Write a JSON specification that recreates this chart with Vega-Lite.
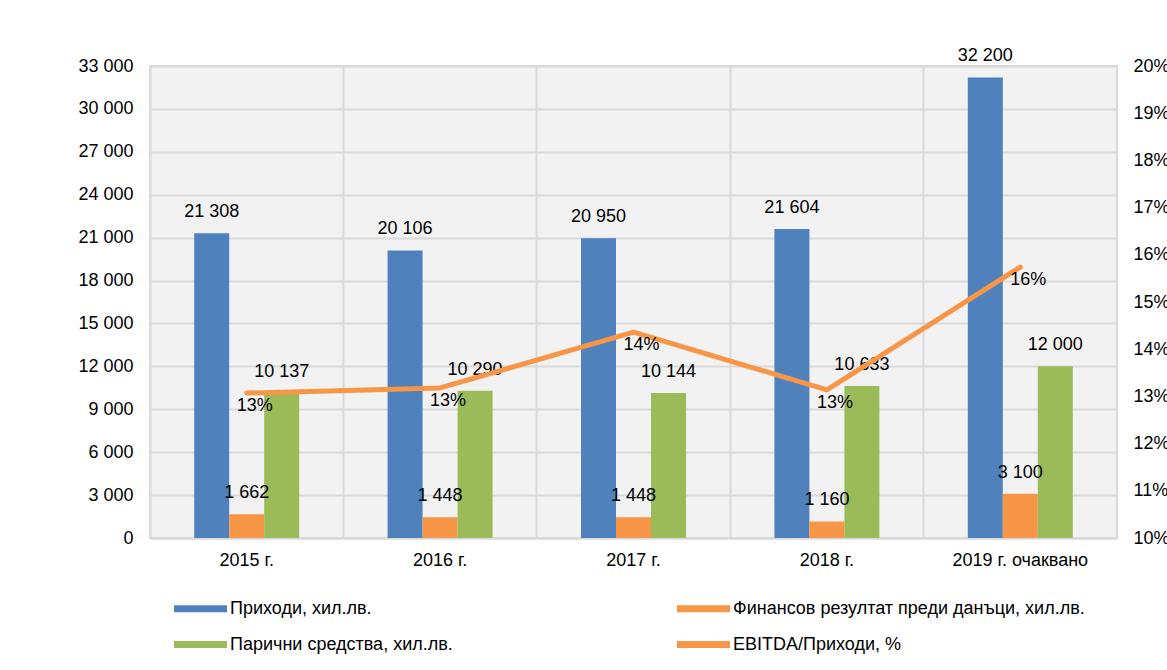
{
  "$schema": "https://vega.github.io/schema/vega-lite/v6.json",
  "width": 967,
  "height": 472,
  "autosize": {"type": "none"},
  "padding": {"left": 150, "top": 66, "right": 50, "bottom": 132},
  "background": "white",
  "datasets": {
    "bars": [
      {"year": "2015 г.", "series": "Приходи, хил.лв.", "value": 21308},
      {"year": "2015 г.", "series": "Финансов резултат преди данъци, хил.лв.", "value": 1662},
      {"year": "2015 г.", "series": "Парични средства, хил.лв.", "value": 10137},
      {"year": "2016 г.", "series": "Приходи, хил.лв.", "value": 20106},
      {"year": "2016 г.", "series": "Финансов резултат преди данъци, хил.лв.", "value": 1448},
      {"year": "2016 г.", "series": "Парични средства, хил.лв.", "value": 10290},
      {"year": "2017 г.", "series": "Приходи, хил.лв.", "value": 20950},
      {"year": "2017 г.", "series": "Финансов резултат преди данъци, хил.лв.", "value": 1448},
      {"year": "2017 г.", "series": "Парични средства, хил.лв.", "value": 10144},
      {"year": "2018 г.", "series": "Приходи, хил.лв.", "value": 21604},
      {"year": "2018 г.", "series": "Финансов резултат преди данъци, хил.лв.", "value": 1160},
      {"year": "2018 г.", "series": "Парични средства, хил.лв.", "value": 10633},
      {"year": "2019 г. очаквано", "series": "Приходи, хил.лв.", "value": 32200},
      {"year": "2019 г. очаквано", "series": "Финансов резултат преди данъци, хил.лв.", "value": 3100},
      {"year": "2019 г. очаквано", "series": "Парични средства, хил.лв.", "value": 12000}
    ],
    "ratio": [
      {"year": "2015 г.", "ratio": 0.1307},
      {"year": "2016 г.", "ratio": 0.1318},
      {"year": "2017 г.", "ratio": 0.1436},
      {"year": "2018 г.", "ratio": 0.1314},
      {"year": "2019 г. очаквано", "ratio": 0.1574}
    ]
  },
  "layer": [
    {
      "data": {"name": "bars"},
      "encoding": {
        "x": {
          "field": "year", "type": "nominal", "sort": null,
          "scale": {"paddingInner": 0, "paddingOuter": 0},
          "axis": {
            "title": null, "labelAngle": 0, "bandPosition": 0,
            "grid": true, "gridColor": "#d9d9d9", "gridWidth": 2,
            "ticks": false, "domainColor": "#d9d9d9", "domainWidth": 2,
            "labelPadding": 13
          }
        },
        "xOffset": {
          "field": "series", "type": "nominal",
          "scale": {
            "domain": ["_left", "Приходи, хил.лв.", "Финансов резултат преди данъци, хил.лв.", "Парични средства, хил.лв.", "_right"],
            "paddingInner": 0, "paddingOuter": 0.263
          }
        },
        "y": {
          "field": "value", "type": "quantitative",
          "scale": {"domain": [0, 33000], "nice": false, "zero": true},
          "axis": {
            "title": null, "orient": "left",
            "values": [0, 3000, 6000, 9000, 12000, 15000, 18000, 21000, 24000, 27000, 30000, 33000],
            "format": ",d", "grid": true, "gridColor": "#d9d9d9", "gridWidth": 2,
            "domain": false, "ticks": false, "labelPadding": 17
          }
        }
      },
      "layer": [
        {
          "mark": {"type": "bar"},
          "encoding": {
            "color": {
              "field": "series", "type": "nominal",
              "scale": {
                "domain": ["Приходи, хил.лв.", "Финансов резултат преди данъци, хил.лв.", "Парични средства, хил.лв.", "EBITDA/Приходи, %"],
                "range": ["#4f81bd", "#f79646", "#9bbb59", "#f79646"]
              },
              "legend": {
                "orient": "none", "legendX": 24, "legendY": 516,
                "direction": "horizontal",
                "title": null, "columns": 2, "columnPadding": 224, "rowPadding": -2,
                "padding": 0,
                "symbolType": "M-1,-0.132H1V0.132H-1Z", "symbolSize": 2809, "symbolStrokeWidth": 0,
                "labelFont": "Liberation Sans", "labelFontSize": 18, "labelColor": "#000000",
                "labelOffset": 3, "labelLimit": 500
              }
            }
          }
        },
        {
          "mark": {"type": "text", "dy": -16, "baseline": "alphabetic", "align": "center", "font": "Liberation Sans", "fontSize": 18, "color": "#000000"},
          "encoding": {
            "text": {"field": "value", "type": "quantitative", "format": ",d"}
          }
        }
      ]
    },
    {
      "data": {"name": "ratio"},
      "encoding": {
        "x": {"field": "year", "type": "nominal", "sort": null},
        "y": {
          "field": "ratio", "type": "quantitative",
          "scale": {"domain": [0.1, 0.2], "nice": false, "zero": false},
          "axis": {
            "title": null, "orient": "right",
            "values": [0.1, 0.11, 0.12, 0.13, 0.14, 0.15, 0.16, 0.17, 0.18, 0.19, 0.2],
            "format": ".0%", "grid": false, "domain": false, "ticks": false, "labelPadding": 16
          }
        }
      },
      "layer": [
        {
          "mark": {"type": "line", "strokeWidth": 5, "strokeCap": "round", "strokeJoin": "round"},
          "encoding": {
            "color": {"datum": "EBITDA/Приходи, %", "type": "nominal"}
          }
        },
        {
          "mark": {"type": "text", "dx": 8, "dy": 18, "baseline": "alphabetic", "align": "center", "font": "Liberation Sans", "fontSize": 18, "color": "#000000"},
          "encoding": {
            "text": {"field": "ratio", "type": "quantitative", "format": ".0%"}
          }
        }
      ]
    }
  ],
  "resolve": {"scale": {"y": "independent"}},
  "config": {
    "locale": {"number": {"decimal": ",", "thousands": " ", "grouping": [3], "currency": ["", ""]}},
    "view": {"stroke": "#d9d9d9", "strokeWidth": 2, "fill": "#f2f2f2"},
    "axis": {"labelFont": "Liberation Sans", "labelFontSize": 18, "labelColor": "#000000"},
    "legend": {"labelFont": "Liberation Sans", "labelFontSize": 18}
  }
}
